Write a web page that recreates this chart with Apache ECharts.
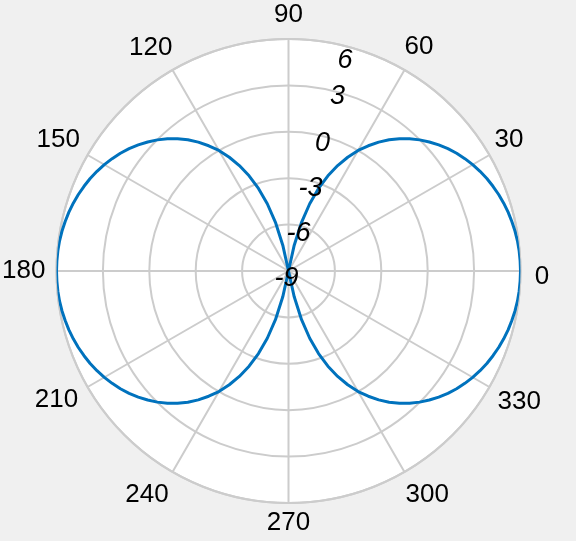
<!DOCTYPE html>
<html>
<head>
<meta charset="utf-8">
<script src="https://cdn.jsdelivr.net/npm/echarts@6/dist/echarts.min.js"></script>
<style>
html,body{margin:0;padding:0;background:#f0f0f0;}
#chart{width:576px;height:541px;}
</style>
</head>
<body>
<div id="chart"></div>
<script>
// Data (theta in degrees, r in dB)
const thetaDeg = [
  0,2.5,5,7.5,10,12.5,15,17.5,20,22.5,25,27.5,30,32.5,35,37.5,40,42.5,45,47.5,50,52.5,55,57.5,
  60,62.5,65,67.5,70,72.5,75,77.5,80,82.5,85,87.5,90,92.5,95,97.5,100,102.5,105,107.5,110,112.5,115,117.5,
  120,122.5,125,127.5,130,132.5,135,137.5,140,142.5,145,147.5,150,152.5,155,157.5,160,162.5,165,167.5,170,172.5,175,177.5,
  180,182.5,185,187.5,190,192.5,195,197.5,200,202.5,205,207.5,210,212.5,215,217.5,220,222.5,225,227.5,230,232.5,235,237.5,
  240,242.5,245,247.5,250,252.5,255,257.5,260,262.5,265,267.5,270,272.5,275,277.5,280,282.5,285,287.5,290,292.5,295,297.5,
  300,302.5,305,307.5,310,312.5,315,317.5,320,322.5,325,327.5,330,332.5,335,337.5,340,342.5,345,347.5,350,352.5,355,357.5,360];
const rValues = [
  6,5.99,5.97,5.93,5.87,5.79,5.70,5.59,5.46,5.31,5.15,4.96,4.75,4.52,4.27,3.99,3.68,3.35,2.99,2.59,2.16,1.69,1.17,0.60,
  0.0,-0.71,-1.48,-2.34,-3.32,-4.44,-5.74,-7.29,-9,-9,-9,-9,-9,-9,-9,-9,-9,-7.29,-5.74,-4.44,-3.32,-2.34,-1.48,-0.71,
  0.0,0.60,1.17,1.69,2.16,2.59,2.99,3.35,3.68,3.99,4.27,4.52,4.75,4.96,5.15,5.31,5.46,5.59,5.70,5.79,5.87,5.93,5.97,5.99,
  6,5.99,5.97,5.93,5.87,5.79,5.70,5.59,5.46,5.31,5.15,4.96,4.75,4.52,4.27,3.99,3.68,3.35,2.99,2.59,2.16,1.69,1.17,0.60,
  0.0,-0.71,-1.48,-2.34,-3.32,-4.44,-5.74,-7.29,-9,-9,-9,-9,-9,-9,-9,-9,-9,-7.29,-5.74,-4.44,-3.32,-2.34,-1.48,-0.71,
  0.0,0.60,1.17,1.69,2.16,2.59,2.99,3.35,3.68,3.99,4.27,4.52,4.75,4.96,5.15,5.31,5.46,5.59,5.70,5.79,5.87,5.93,5.97,5.99,6];
const rMin = -9, rMax = 6, rStep = 3;
const thetaStep = 30;

const FONT = "'Liberation Sans', Arial, sans-serif";
const GRID = '#cccccc';
// per-label paddings [top,right,bottom,left] to mimic the reference label placement
const angPad = {
  0:[11.4,0,0,14.3], 30:[0,0,2,5.1], 60:[0,0,9.8,0], 90:[0,0,11.5,0],
  120:[0,0,9.6,0], 150:[0,7.6,2,0], 180:[0,11.1,0,0], 210:[0.3,9.4,0,0],
  240:[10.1,3.8,0,0], 270:[7,0,0,0], 300:[10.1,0,0,1.1], 330:[2.3,0,0,8.1]
};
const rich = {};
Object.keys(angPad).forEach(k => {
  rich['p' + k] = {padding: angPad[k], fontSize: 26, fontFamily: FONT, color: '#000'};
});
const radPadDefault = [14, 4, 0, 0];
const radPad = {'6': [28, 7, 0, 0], '3': [10, 0, 0, 2]};
const rRich = {};
['-9', '-6', '-3', '0', '3', '6'].forEach((k, i) => {
  rRich['r' + i] = {padding: radPad[k] || radPadDefault, fontSize: 27, fontStyle: 'italic',
                    fontFamily: FONT, color: '#000'};
});
const rKeys = {'-9': 'r0', '-6': 'r1', '-3': 'r2', '0': 'r3', '3': 'r4', '6': 'r5'};

const C = [288.5, 271], R = 232;
const chart = echarts.init(document.getElementById('chart'), null, {renderer: 'canvas'});
chart.setOption({
  backgroundColor: '#f0f0f0',
  animation: false,
  polar: [
    {center: C, radius: R},
    {center: C, radius: R},
    {center: C, radius: R}
  ],
  angleAxis: [
    {
      polarIndex: 0, type: 'value', min: 0, max: 360, interval: thetaStep,
      startAngle: 0, clockwise: false, z: 1,
      axisLine: {show: true, lineStyle: {color: GRID, width: 2}},
      axisTick: {show: false},
      splitLine: {show: true, lineStyle: {color: GRID, width: 2}},
      axisLabel: {
        show: true, margin: 0, fontSize: 26, fontFamily: FONT, color: '#000',
        formatter: v => (v === 360 ? '' : '{p' + v + '|' + v + '}'),
        rich: rich
      }
    },
    {polarIndex: 1, type: 'value', min: 0, max: 360, startAngle: 75, clockwise: false, show: false},
    {polarIndex: 2, type: 'value', min: 0, max: 360, startAngle: 0, clockwise: false, show: false}
  ],
  radiusAxis: [
    {
      polarIndex: 0, type: 'value', min: rMin, max: rMax, interval: rStep, z: 1,
      axisLine: {show: false}, axisTick: {show: false}, axisLabel: {show: false},
      splitLine: {show: true, lineStyle: {color: GRID, width: 2}}
    },
    {
      polarIndex: 1, type: 'value', min: rMin, max: rMax, interval: rStep, z: 10,
      axisLine: {show: false}, axisTick: {show: false}, splitLine: {show: false},
      axisLabel: {
        show: true, margin: 0, align: 'center', verticalAlign: 'middle',
        formatter: v => '{' + (rKeys[String(v)] || 'r0') + '|' + v + '}',
        rich: rRich
      }
    },
    {
      polarIndex: 2, type: 'value', min: rMin, max: rMax, interval: rStep, z: -1,
      axisLine: {show: false}, axisTick: {show: false}, axisLabel: {show: false},
      splitLine: {show: false},
      splitArea: {show: true, areaStyle: {color: ['#ffffff', '#ffffff']}}
    }
  ],
  series: [{
    type: 'line', coordinateSystem: 'polar', polarIndex: 0,
    showSymbol: false, symbol: 'none', z: 5,
    lineStyle: {color: '#0072BD', width: 3},
    data: rValues.map((r, i) => [r, thetaDeg[i]])
  }]
});
</script>
</body>
</html>
